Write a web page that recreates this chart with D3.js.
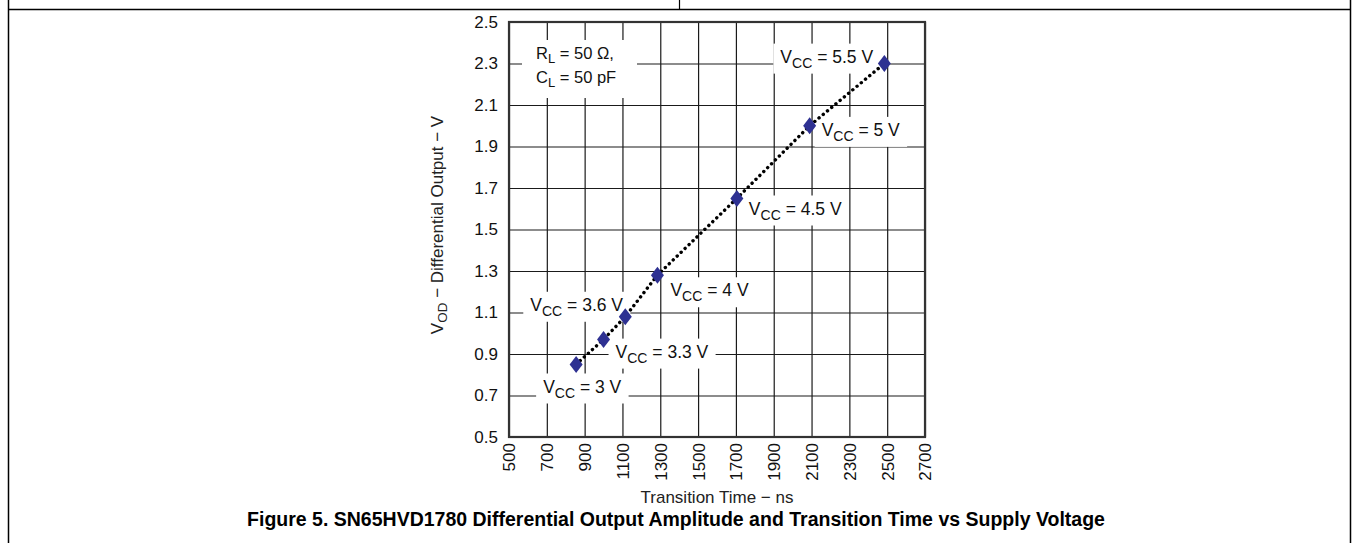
<!DOCTYPE html>
<html>
<head>
<meta charset="utf-8">
<script src="https://cdn.jsdelivr.net/npm/d3@7/dist/d3.min.js"></script>
<style>
  html, body { margin: 0; padding: 0; background: #fff; }
  svg { display: block; font-family: "Liberation Sans", Arial, sans-serif; }
</style>
</head>
<body>
<svg id="chart" width="1353" height="543"></svg>
<script>
// ---- data ----
const supplyLabels = ["3 V", "3.3 V", "3.6 V", "4 V", "4.5 V", "5 V", "5.5 V"];
const transitionNs = [855, 1000, 1115, 1285, 1705, 2090, 2485];
const vodValues = [0.85, 0.97, 1.08, 1.28, 1.65, 2.00, 2.30];
const xTicks = [500, 700, 900, 1100, 1300, 1500, 1700, 1900, 2100, 2300, 2500, 2700];
const yTicks = [0.5, 0.7, 0.9, 1.1, 1.3, 1.5, 1.7, 1.9, 2.1, 2.3, 2.5];

// ---- layout (label offsets relative to each point, px) ----
const labelOffsets = [[-33, 22], [12, 12], [-95, -12], [13, 15], [12, 10], [12, 4], [-104, -7]];

const svg = d3.select("#chart");
const pLeft = 509, pRight = 925, pTop = 22, pBottom = 437;
const x = d3.scaleLinear().domain([500, 2700]).range([pLeft, pRight]);
const y = d3.scaleLinear().domain([0.5, 2.5]).range([pBottom, pTop]);

// page border lines
svg.append("line").attr("x1", 8).attr("x2", 1351).attr("y1", 9.5).attr("y2", 9.5).attr("stroke", "#000").attr("stroke-width", 1.5);
svg.append("line").attr("x1", 8.5).attr("x2", 8.5).attr("y1", 0).attr("y2", 543).attr("stroke", "#000").attr("stroke-width", 1.5);
svg.append("line").attr("x1", 1350.5).attr("x2", 1350.5).attr("y1", 0).attr("y2", 543).attr("stroke", "#000").attr("stroke-width", 1.5);
svg.append("line").attr("x1", 679.5).attr("x2", 679.5).attr("y1", 0).attr("y2", 9.5).attr("stroke", "#000").attr("stroke-width", 1.2);

// grid
const gx = svg.append("g").attr("transform", `translate(0,${pBottom})`)
  .call(d3.axisBottom(x).tickValues(xTicks).tickSize(-(pBottom - pTop)).tickFormat(""));
gx.select(".domain").remove();
gx.selectAll("line").attr("stroke", "#1a1a1a").attr("stroke-width", 1.2);
const gy = svg.append("g").attr("transform", `translate(${pLeft},0)`)
  .call(d3.axisLeft(y).tickValues(yTicks).tickSize(-(pRight - pLeft)).tickFormat(""));
gy.select(".domain").remove();
gy.selectAll("line").attr("stroke", "#1a1a1a").attr("stroke-width", 1.2);

// tick labels
const ax = svg.append("g").attr("transform", `translate(0,${pBottom})`)
  .call(d3.axisBottom(x).tickValues(xTicks).tickSize(0).tickFormat(d3.format("d")));
ax.select(".domain").remove();
ax.selectAll("text")
  .attr("font-size", 17).attr("fill", "#111").attr("font-family", "Liberation Sans, Arial, sans-serif")
  .attr("text-anchor", "end").attr("transform", "rotate(-90)")
  .attr("x", -6).attr("y", 0).attr("dy", "0.35em");
const ay = svg.append("g").attr("transform", `translate(${pLeft},0)`)
  .call(d3.axisLeft(y).tickValues(yTicks).tickSize(0).tickPadding(11).tickFormat(d3.format(".1f")));
ay.select(".domain").remove();
ay.selectAll("text").attr("font-size", 17).attr("fill", "#111").attr("font-family", "Liberation Sans, Arial, sans-serif");

// annotation boxes
const annG = svg.append("g");
function boxedText(g, tx, ty, build, padX, padY) {
  const grp = g.append("g");
  const rect = grp.append("rect").attr("fill", "#fff");
  const t = grp.append("text").attr("x", tx).attr("y", ty).attr("font-size", 17.5).attr("fill", "#111").attr("dy", "0.35em");
  build(t);
  const b = t.node().getBBox();
  rect.attr("x", b.x - padX).attr("y", b.y - padY).attr("width", b.width + 2 * padX).attr("height", b.height + 2 * padY);
  return grp;
}

// RL / CL box
{
  const grp = annG.append("g");
  const rect = grp.append("rect").attr("fill", "#fff");
  const t1 = grp.append("text").attr("x", 536).attr("y", 53).attr("dy", "0.35em").attr("font-size", 16.5).attr("fill", "#111");
  t1.append("tspan").text("R");
  t1.append("tspan").attr("font-size", 13).attr("dy", 4).text("L");
  t1.append("tspan").attr("dy", -4).text(" = 50 Ω,");
  const t2 = grp.append("text").attr("x", 536).attr("y", 77).attr("dy", "0.35em").attr("font-size", 16.5).attr("fill", "#111");
  t2.append("tspan").text("C");
  t2.append("tspan").attr("font-size", 13).attr("dy", 4).text("L");
  t2.append("tspan").attr("dy", -4).text(" = 50 pF");
  rect.attr("x", 522).attr("y", 40).attr("width", 115).attr("height", 58);
}

// point labels
supplyLabels.forEach((lab, i) => {
  const px = x(transitionNs[i]) + labelOffsets[i][0];
  const py = y(vodValues[i]) + labelOffsets[i][1];
  boxedText(annG, px, py, t => {
    t.append("tspan").text("V");
    t.append("tspan").attr("font-size", 14).attr("dy", 5).text("CC");
    t.append("tspan").attr("dy", -5).text(" = " + lab);
  }, 7, 3);
});

// frame
svg.append("rect").attr("x", pLeft).attr("y", pTop).attr("width", pRight - pLeft).attr("height", pBottom - pTop)
  .attr("fill", "none").attr("stroke", "#333").attr("stroke-width", 2.2);

// dotted line
const pts = transitionNs.map((t, i) => [t, vodValues[i]]);
svg.append("path").datum(pts)
  .attr("d", d3.line().x(d => x(d[0])).y(d => y(d[1])))
  .attr("fill", "none").attr("stroke", "#000").attr("stroke-width", 3.4)
  .attr("stroke-linecap", "round").attr("stroke-dasharray", "0.1 5.4");

// diamonds
svg.append("g").selectAll("path").data(pts).join("path")
  .attr("transform", d => `translate(${x(d[0])},${y(d[1])})`)
  .attr("d", "M0,-8.5L6.5,0L0,8.5L-6.5,0Z")
  .attr("fill", "#2e3192");

// axis titles
svg.append("text").attr("x", (pLeft + pRight) / 2).attr("y", 497).attr("text-anchor", "middle")
  .attr("dy", "0.35em").attr("font-size", 17).attr("fill", "#222").text("Transition Time − ns");

const yt = svg.append("text").attr("transform", `translate(437,225) rotate(-90)`)
  .attr("text-anchor", "middle").attr("dy", "0.35em").attr("font-size", 17).attr("fill", "#222");
yt.append("tspan").text("V");
yt.append("tspan").attr("font-size", 13.5).attr("dy", 4).text("OD");
yt.append("tspan").attr("dy", -4).text(" − Differential Output − V");

// figure title
svg.append("text").attr("x", 676).attr("y", 519).attr("text-anchor", "middle").attr("dy", "0.35em")
  .attr("font-size", 19.5).attr("font-weight", "bold").attr("fill", "#000")
  .text("Figure 5. SN65HVD1780 Differential Output Amplitude and Transition Time vs Supply Voltage");
</script>
</body>
</html>
